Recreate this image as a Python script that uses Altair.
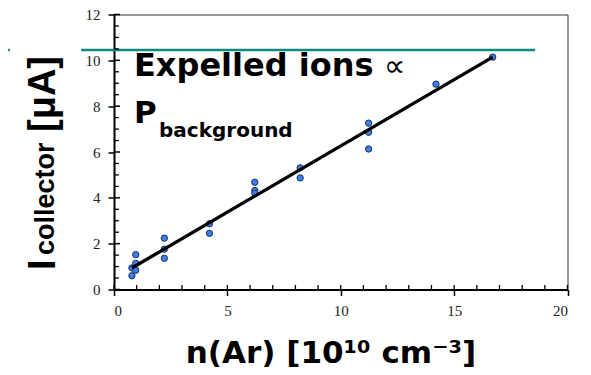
import altair as alt
import pandas as pd

# ---- data ----
n_ar = [0.79, 0.79, 0.96, 0.96, 0.96, 2.22, 2.22, 2.22, 4.21, 4.21,
        6.21, 6.21, 6.21, 8.21, 8.21, 11.23, 11.23, 11.23, 14.2, 16.7]
i_col = [0.60, 0.94, 1.52, 1.14, 0.84, 2.24, 1.76, 1.36, 2.87, 2.45,
         4.68, 4.32, 4.20, 5.31, 4.87, 7.26, 6.86, 6.13, 8.96, 10.14]

fit_x = [0.79, 16.7]
fit_y = [0.94, 10.14]

x_ticks = [0, 5, 10, 15, 20]
x_ticks_in = list(range(0, 21))
y_ticks = [0, 2, 4, 6, 8, 10, 12]
y_ticks_minor = [0.5, 1, 1.5, 2.5, 3, 3.5, 4.5, 5, 5.5, 6.5, 7, 7.5,
                 8.5, 9, 9.5, 10.5, 11, 11.5]

teal_x1 = [-4.67, -1.45]
teal_x2 = [-4.59, 18.57]
teal_y = [10.45, 10.45]

x_title = "n(Ar) [10\u00b9\u2070 cm\u207b\u00b3]"
y_title_main = "I"
y_title_sub = "collector"
y_title_unit = "[\u03bcA]"
note_line1 = "Expelled ions"
note_prop = "\u221d"
note_line2 = "P"
note_sub = "background"

W, H = 453.5, 275
SERIF = "Liberation Serif, Times New Roman, Times, DejaVu Serif, serif"
SANS = "Liberation Sans, Arial, Helvetica, sans-serif"

pts = pd.DataFrame({"x": n_ar, "y": i_col})
fit = pd.DataFrame({"x": fit_x, "y": fit_y})

xs = alt.Scale(domain=[0, 20], nice=False, zero=False)
ys = alt.Scale(domain=[0, 12], nice=False, zero=False)

points = alt.Chart(pts).mark_point(
    filled=True, size=40, fill="#3d7fe6", stroke="#1b2e5c", strokeWidth=1, opacity=1
).encode(
    x=alt.X("x:Q", scale=xs, axis=alt.Axis(values=x_ticks, title=None, labelPadding=8)),
    y=alt.Y("y:Q", scale=ys, axis=alt.Axis(values=y_ticks, title=None, labelPadding=8)),
)

line = alt.Chart(fit).mark_line(color="black", strokeWidth=3.3).encode(
    x=alt.X("x:Q", scale=xs), y=alt.Y("y:Q", scale=ys)
)

xin = alt.Chart(pd.DataFrame({"v": x_ticks_in})).mark_rule(color="black", strokeWidth=1.3).encode(
    x=alt.X("v:Q", scale=xs), y=alt.value(H), y2=alt.value(H - 4.5)
)
yin = alt.Chart(pd.DataFrame({"v": y_ticks})).mark_rule(color="black", strokeWidth=1.5).encode(
    y=alt.Y("v:Q", scale=ys), x=alt.value(0), x2=alt.value(6)
)
yin_minor = alt.Chart(pd.DataFrame({"v": y_ticks_minor})).mark_rule(color="black", strokeWidth=1.3).encode(
    y=alt.Y("v:Q", scale=ys), x=alt.value(0), x2=alt.value(5)
)

teal = alt.Chart(pd.DataFrame({"x1": teal_x1, "x2": teal_x2, "y": teal_y})).mark_rule(
    color="#12897f", strokeWidth=2.6, clip=False
).encode(
    x=alt.X("x1:Q", scale=xs), x2="x2:Q", y=alt.Y("y:Q", scale=ys)
)


def txt(s, x, y, size, font="DejaVu Sans", weight="bold", angle=0, align="left"):
    return alt.Chart(pd.DataFrame({"t": [s]})).mark_text(
        font=font, fontSize=size, fontWeight=weight, angle=angle, align=align,
        baseline="alphabetic", color="black"
    ).encode(text="t:N", x=alt.value(x), y=alt.value(y))


ox, oy = 114, 14.5
texts = [
    txt(x_title, 331 - ox, 363 - oy, 31, align="center"),
    txt(y_title_main, 55 - ox, 270 - oy, 38, font=SANS, angle=270),
    txt(y_title_sub, 54 - ox, 255 - oy, 27, font=SANS, angle=270),
    txt(y_title_unit, 55 - ox, 132 - oy, 38, font=SANS, angle=270),
    txt(note_line1, 134 - ox, 76 - oy, 32),
    txt(note_prop, 384 - ox, 76 - oy, 30, weight="normal"),
    txt(note_line2, 134 - ox, 123 - oy, 31),
    txt(note_sub, 159 - ox, 137 - oy, 20),
]

chart = alt.layer(teal, points, line, xin, yin, yin_minor, *texts).properties(
    width=W, height=H,
    autosize=alt.AutoSizeParams(type="none"),
    padding={"left": 106, "top": 6.5, "right": 15, "bottom": 82},
).configure_view(
    stroke="#333333", strokeWidth=1
).configure_axis(
    grid=False, domainColor="black", domainWidth=2, tickColor="black", tickWidth=1.5,
    tickSize=6, labelFont=SERIF, labelFontSize=15, labelColor="#222222",
)

chart.save("out.html", embed_options={"renderer": "svg", "actions": False})
